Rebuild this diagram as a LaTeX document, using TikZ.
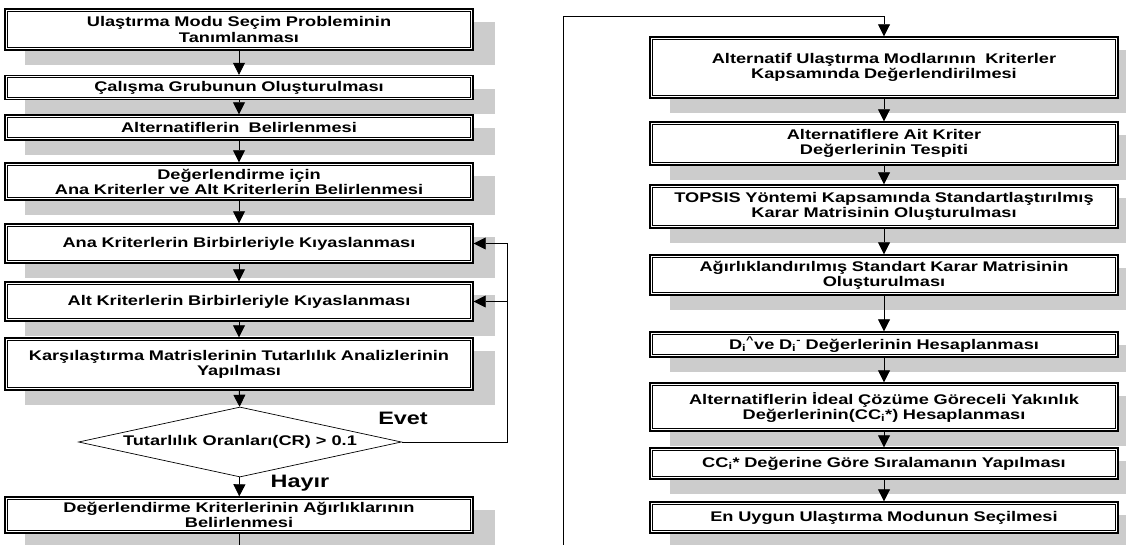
\documentclass[tikz,border=0pt]{standalone}
\usepackage{fontspec}
\setmainfont{Liberation Sans}[FakeStretch=1.3]
\usetikzlibrary{arrows.meta,shapes.geometric,backgrounds}
\definecolor{shadowgray}{RGB}{204,204,204}
\tikzset{
  stepbox/.style={draw=black,line width=1.4pt,fill=white,
    minimum width=468pt,text width=460pt,align=center,inner sep=1pt,
    font=\bfseries\fontsize{14pt}{15pt}\selectfont},
  innerframe/.style={draw=black,line width=0.6pt},
  decision/.style={diamond,draw=black,line width=0.7pt,fill=white,aspect=4.6,
    minimum width=323pt,minimum height=70pt,inner sep=0pt,
    font=\bfseries\fontsize{14pt}{15pt}\selectfont},
  flow/.style={draw=black,line width=0.8pt,-{Triangle[width=12pt,length=12pt]}},
  answer/.style={font=\bfseries\fontsize{18pt}{19pt}\selectfont}
}
\begin{document}
\begin{tikzpicture}[x=1pt,y=-1pt]
\useasboundingbox (0,0) rectangle (1126,545);
\clip (0,0) rectangle (1126,545);
% left column
\node[stepbox,minimum height=41pt] (l1) at (239,29.5) {Ulaştırma Modu Seçim Probleminin\\Tanımlanması};
\node[stepbox,minimum height=24pt] (l2) at (239,87.5) {Çalışma Grubunun Oluşturulması};
\node[stepbox,minimum height=25pt] (l3) at (239,127.5) {Alternatiflerin\ \ Belirlenmesi};
\node[stepbox,minimum height=37pt] (l4) at (239,181.5) {Değerlendirme için\\Ana Kriterler ve Alt Kriterlerin Belirlenmesi};
\node[stepbox,minimum height=39pt] (l5) at (239,243.5) {Ana Kriterlerin Birbirleriyle Kıyaslanması};
\node[stepbox,minimum height=39pt] (l6) at (239,301.5) {Alt Kriterlerin Birbirleriyle Kıyaslanması};
\node[stepbox,minimum height=52pt] (l7) at (239,364) {Karşılaştırma Matrislerinin Tutarlılık Analizlerinin\\Yapılması};
\node[decision] (cr) at (240,442) {Tutarlılık Oranları(CR) > 0.1};
\node[stepbox,minimum height=36pt] (l8) at (239,515) {Değerlendirme Kriterlerinin Ağırlıklarının\\Belirlenmesi};
\node[answer] (evet) at (403,418) {Evet};
\node[answer] (hayir) at (300,483) {Hayır};
\coordinate (fb) at (507,442);
\coordinate (lout) at (239,545);
% right column
\node[stepbox,minimum height=61pt] (r1) at (884,67.5) {Alternatif Ulaştırma Modlarının\ \ Kriterler\\Kapsamında Değerlendirilmesi};
\node[stepbox,minimum height=43pt] (r2) at (884,143.5) {Alternatiflere Ait Kriter\\Değerlerinin Tespiti};
\node[stepbox,minimum height=43pt] (r3) at (884,206.5) {TOPSIS Yöntemi Kapsamında Standartlaştırılmış\\Karar Matrisinin Oluşturulması};
\node[stepbox,minimum height=40pt] (r4) at (884,275) {Ağırlıklandırılmış Standart Karar Matrisinin\\Oluşturulması};
\node[stepbox,minimum height=25pt] (r5) at (884,344.5) {D\textsubscript{i}\textsuperscript{\^{}}ve D\textsubscript{i}\textsuperscript{-} Değerlerinin Hesaplanması};
\node[stepbox,minimum height=48pt] (r6) at (884,407) {Alternatiflerin İdeal Çözüme Göreceli Yakınlık\\Değerlerinin(CC\textsubscript{i}*) Hesaplanması};
\node[stepbox,minimum height=31pt] (r7) at (884,463.5) {CC\textsubscript{i}* Değerine Göre Sıralamanın Yapılması};
\node[stepbox,minimum height=31pt] (r8) at (884,517.5) {En Uygun Ulaştırma Modunun Seçilmesi};
\coordinate (rin) at (563,545);
\coordinate (rtop) at (563,16);
% shadows and inner frames
\foreach \n in {l1,l2,l3,l4,l5,l6,l7,l8,r1,r2,r3,r4,r5,r6,r7,r8} {
  \begin{scope}[on background layer]
  \fill[shadowgray] ([shift={(21,14)}]\n.south west) rectangle ([shift={(21,14)}]\n.north east);
  \end{scope}
  \draw[innerframe] ([shift={(3,3)}]\n.north west) rectangle ([shift={(-3,-3)}]\n.south east);
}
% connectors
\draw[flow] (l1) -- (l2);
\draw[flow] (l2) -- (l3);
\draw[flow] (l3) -- (l4);
\draw[flow] (l4) -- (l5);
\draw[flow] (l5) -- (l6);
\draw[flow] (l6) -- (l7);
\draw[flow] (l7) -- (cr);
\draw[flow] (cr) -- (l8);
\draw[flow] (cr.east) -- (fb) |- (l5.east);
\draw[flow] (fb |- l6.east) -- (l6.east);
\draw[line width=0.8pt] (l8) -- (lout);
\draw[flow] (rin) -- (rtop) -| (r1.north);
\draw[flow] (r1) -- (r2);
\draw[flow] (r2) -- (r3);
\draw[flow] (r3) -- (r4);
\draw[flow] (r4) -- (r5);
\draw[flow] (r5) -- (r6);
\draw[flow] (r6) -- (r7);
\draw[flow] (r7) -- (r8);
\end{tikzpicture}
\end{document}
